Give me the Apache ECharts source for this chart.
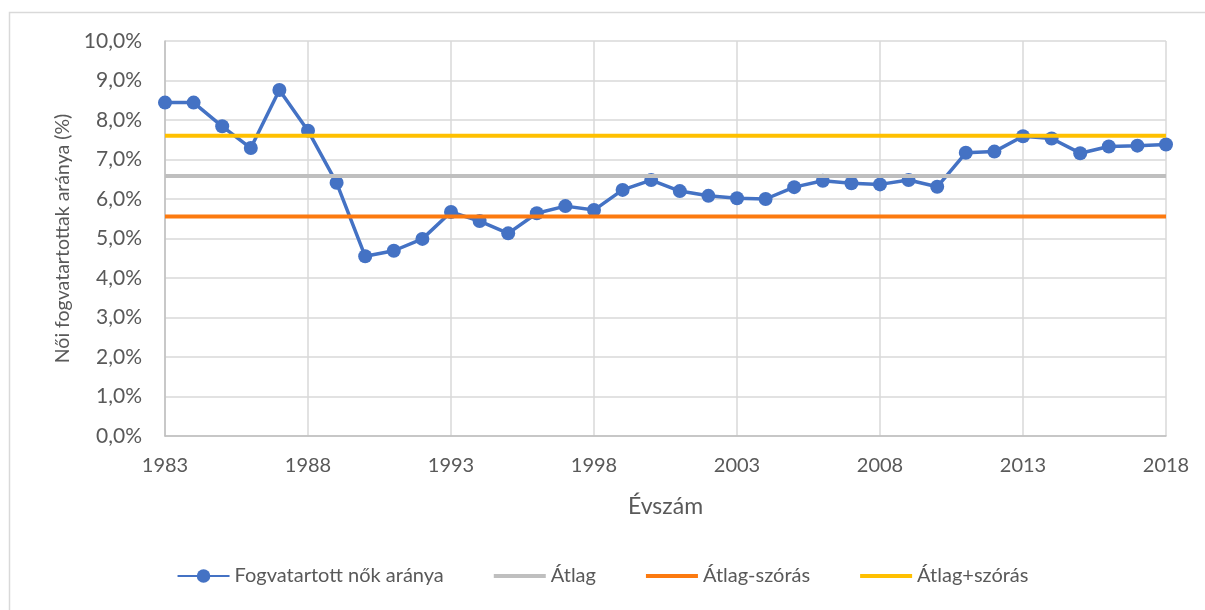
<!DOCTYPE html>
<html><head><meta charset="utf-8">
<script src="https://cdn.jsdelivr.net/npm/echarts@6/dist/echarts.min.js"></script>
<style>html,body{margin:0;padding:0;background:#fff;}#c{width:1205px;height:610px;}</style>
</head><body><div id="c"></div>
<script>
const years = [1983,1984,1985,1986,1987,1988,1989,1990,1991,1992,1993,1994,1995,1996,1997,1998,1999,2000,2001,2002,2003,2004,2005,2006,2007,2008,2009,2010,2011,2012,2013,2014,2015,2016,2017,2018];
const ratio = [8.44,8.44,7.84,7.29,8.76,7.73,6.41,4.55,4.69,4.99,5.67,5.44,5.13,5.64,5.82,5.72,6.23,6.48,6.20,6.08,6.02,6.00,6.30,6.46,6.40,6.37,6.48,6.31,7.17,7.20,7.59,7.53,7.16,7.33,7.35,7.38];
const mean = 6.58;
const meanMinusSd = 5.56;
const meanPlusSd = 7.60;
const xTicks = {min:1983, max:2018, interval:5};
const yTicks = {min:0, max:10, interval:1};
const names = ['Fogvatartott nők aránya','Átlag','Átlag-szórás','Átlag+szórás'];

const font = 'Lato, "Open Sans", sans-serif';
const txt = '#595959';
const barIcon = 'path://M0,0L52,0L52,4L0,4Z';
const chart = echarts.init(document.getElementById('c'), null, {renderer:'canvas'});
const flat = v => [[xTicks.min, v],[xTicks.max, v]];
chart.setOption({
  animation:false,
  graphic:[{type:'rect', shape:{x:9.5,y:12.5,width:1210,height:610}, style:{fill:'none', stroke:'#d9d9d9', lineWidth:1.5}, silent:true}],
  grid:{left:165, right:39, top:41, bottom:174},
  legend:{
    data:[{name:names[0]},{name:names[1], icon:barIcon},{name:names[2], icon:barIcon},{name:names[3], icon:barIcon}],
    bottom:19, left:'center', itemWidth:52, itemHeight:17, itemGap:50, symbolKeepAspect:true,
    textStyle:{fontFamily:font, fontSize:20, color:txt}
  },
  xAxis:{
    type:'value', min:xTicks.min, max:xTicks.max, interval:xTicks.interval,
    name:'Évszám', nameLocation:'middle', nameGap:59,
    nameTextStyle:{fontFamily:font, fontSize:23, color:txt},
    axisLine:{show:true, lineStyle:{color:'#bfbfbf', width:1.5}},
    axisTick:{show:false},
    axisLabel:{fontFamily:font, fontSize:20, color:txt, margin:20, formatter:v=>String(v)},
    splitLine:{show:true, lineStyle:{color:'#d9d9d9', width:1.5}}
  },
  yAxis:{
    type:'value', min:yTicks.min, max:yTicks.max, interval:yTicks.interval,
    name:'Női fogvatartottak aránya (%)', nameLocation:'middle', nameGap:91,
    nameTextStyle:{fontFamily:font, fontSize:19.5, color:txt},
    axisLine:{show:true, lineStyle:{color:'#bfbfbf', width:1.5}},
    axisTick:{show:false},
    axisLabel:{fontFamily:font, fontSize:21, color:txt, margin:23, formatter:v=>v.toFixed(1).replace('.',',')+'%'},
    splitLine:{show:true, lineStyle:{color:'#d9d9d9', width:1.5}}
  },
  series:[
    {name:names[0], type:'line', data:years.map((y,i)=>[y,ratio[i]]), symbol:'circle', symbolSize:14,
     itemStyle:{color:'#4472c4'}, lineStyle:{color:'#4472c4', width:3.5}, z:2},
    {name:names[1], type:'line', data:flat(mean), symbol:'none', lineStyle:{color:'#bfbfbf', width:4}, itemStyle:{color:'#bfbfbf'}, z:3},
    {name:names[2], type:'line', data:flat(meanMinusSd), symbol:'none', lineStyle:{color:'#fc7a10', width:4}, itemStyle:{color:'#fc7a10'}, z:3},
    {name:names[3], type:'line', data:flat(meanPlusSd), symbol:'none', lineStyle:{color:'#ffc000', width:4}, itemStyle:{color:'#ffc000'}, z:3}
  ]
});
</script></body></html>
